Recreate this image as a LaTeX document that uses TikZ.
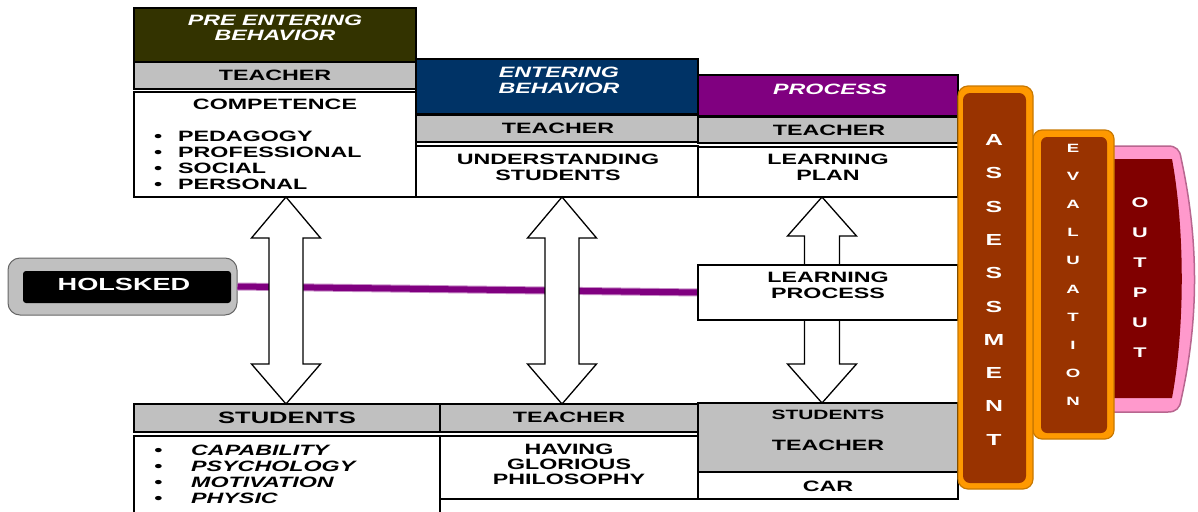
\documentclass[tikz,border=0pt]{standalone}
\usepackage{fontspec}
\setmainfont{Liberation Sans}[FakeStretch=1.55]
\usetikzlibrary{calc}

\definecolor{olivehead}{HTML}{333300}
\definecolor{navyhead}{HTML}{003366}
\definecolor{purplehead}{HTML}{800080}
\definecolor{silver}{HTML}{C0C0C0}
\definecolor{rust}{HTML}{993300}
\definecolor{amber}{HTML}{FF9900}
\definecolor{amberdark}{HTML}{C87800}
\definecolor{maroonfill}{HTML}{800000}
\definecolor{rose}{HTML}{FF99CC}
\definecolor{rosedark}{HTML}{B8668F}

\newcommand\blt{\makebox[24pt][l]{•}}
\newcommand\bltwide{\makebox[37pt][l]{•}}

% double-headed block arrow between two tip points
\newcommand\twowayarrow[2]{%
  \draw[bigarrow] let \p1=(#1), \p2=(#2) in
    (\x1,\y1) -- (\x1+34.5pt,\y1-41pt) -- (\x1+17pt,\y1-41pt)
    -- (\x1+17pt,\y2+40pt) -- (\x1+34.5pt,\y2+40pt) -- (\x2,\y2)
    -- (\x1-34.5pt,\y2+40pt) -- (\x1-17pt,\y2+40pt)
    -- (\x1-17pt,\y1-41pt) -- (\x1-34.5pt,\y1-41pt) -- cycle;}
% single block arrow from a base point to a tip point
\newcommand\blockarrow[3]{% #1 base, #2 tip, #3 direction (+1 up, -1 down)
  \draw[bigarrow] let \p1=(#1), \p2=(#2) in
    (\x1-17.5pt,\y1) -- (\x1-17.5pt,\y2-#3*39pt) -- (\x1-34.5pt,\y2-#3*39pt)
    -- (\x2,\y2) -- (\x1+34.5pt,\y2-#3*39pt) -- (\x1+17.5pt,\y2-#3*39pt)
    -- (\x1+17.5pt,\y1) -- cycle;}

\begin{document}
\begin{tikzpicture}[x=1pt,y=-1pt,
  box/.style={draw=black, line width=1.4pt, inner sep=0pt, outer sep=0pt, anchor=north west},
  txt/.style={inner sep=0pt, font=\bfseries\fontsize{15}{15.5}\selectfont, align=center},
  hdr/.style={txt, font=\bfseries\itshape\fontsize{15}{15.5}\selectfont, text=white},
  itl/.style={txt, font=\bfseries\itshape\fontsize{15}{15.5}\selectfont},
  vlet/.style={inner sep=0pt, text=white, font=\bfseries\fontsize{#1}{#1}\selectfont},
  bigarrow/.style={draw=black, line width=1.3pt, fill=white, line join=miter}]
\useasboundingbox (0,0) rectangle (1198,511);

% ---- upper row: teacher side ----
\node[box, fill=olivehead, minimum width=282pt, minimum height=54pt] (h1) at (134,8) {};
\node[box, fill=silver, minimum width=282pt, minimum height=27pt] (t1) at (134,62) {};
\node[box, fill=white, minimum width=282pt, minimum height=105pt] (w1) at (134,92) {};

\node[box, fill=navyhead, minimum width=282pt, minimum height=55pt] (h2) at (416,59) {};
\node[box, fill=silver, minimum width=282pt, minimum height=27pt] (t2) at (416,115) {};
\node[box, fill=white, minimum width=282pt, minimum height=51pt] (w2) at (416,146) {};

\node[box, fill=purplehead, minimum width=260pt, minimum height=41pt] (h3) at (698,75) {};
\node[box, fill=silver, minimum width=260pt, minimum height=26pt] (t3) at (698,117) {};
\node[box, fill=white, minimum width=260pt, minimum height=50pt] (w3) at (698,147) {};

\node[box, fill=white, minimum width=260pt, minimum height=55pt] (lp) at (698,265) {};

% ---- lower row: students side ----
\node[box, fill=silver, minimum width=306pt, minimum height=28pt] (s1) at (134,404) {};
\node[box, fill=silver, minimum width=258pt, minimum height=28pt] (s2) at (440,404) {};
\node[box, fill=white, minimum width=306pt, minimum height=90pt] (b1) at (134,436) {};
\node[box, fill=white, minimum width=258pt, minimum height=63pt] (b2) at (440,436) {};
\node[box, fill=silver, minimum width=260pt, minimum height=69pt] (s3) at (698,403) {};
\node[box, fill=white, minimum width=260pt, minimum height=27pt] (c3) at (698,472) {};

% ---- HOLSKED badge ----
\node[draw=gray!80!black, line width=1pt, fill=silver, rounded corners=12pt,
      minimum width=229pt, minimum height=57pt, inner sep=0pt] (hol) at (122.5,286.5) {};
\node[fill=black, rounded corners=3pt, minimum width=208pt, minimum height=32pt,
      inner sep=0pt] (holin) at (127,287) {};
\node[txt, text=white, font=\bfseries\fontsize{17.5}{18}\selectfont] (holt) at (124,284) {HOLSKED};

% purple link into the learning process
\draw[line width=8pt, purplehead!45!white] (hol.east) -- (lp.west);
\draw[line width=6pt, purplehead] (hol.east) -- (lp.west);

% ---- block arrows ----
\coordinate (a1t) at (w1.south -| 286,0);
\coordinate (a1b) at (s1.north -| 286,0);
\coordinate (a2t) at (w2.south -| 562,0);
\coordinate (a2b) at (s2.north -| 562,0);
\coordinate (a3t) at (w3.south -| 822,0);
\coordinate (a3m) at (lp.north -| 822,0);
\coordinate (a3n) at (lp.south -| 822,0);
\coordinate (a3b) at (s3.north -| 822,0);
\twowayarrow{a1t}{a1b}
\twowayarrow{a2t}{a2b}
\blockarrow{a3m}{a3t}{1}
\blockarrow{a3n}{a3b}{-1}
\draw[line width=1.4pt] (lp.north west) rectangle (lp.south east);

% ---- texts ----
\node[hdr] (h1x) at (275,28) {PRE ENTERING\\BEHAVIOR};
\node[txt] (t1x) at (275,75.5) {TEACHER};
\node[txt] (w1x) at (275,104) {COMPETENCE};
\node[txt, anchor=west] (l1) at (154,136) {\blt PEDAGOGY};
\node[txt, anchor=west] (l2) at (154,152) {\blt PROFESSIONAL};
\node[txt, anchor=west] (l3) at (154,168) {\blt SOCIAL};
\node[txt, anchor=west] (l4) at (154,184) {\blt PERSONAL};

\node[hdr] (h2x) at (559,80.5) {ENTERING\\BEHAVIOR};
\node[txt] (t2x) at (558,128.5) {TEACHER};
\node[txt] (w2x) at (558,167.5) {UNDERSTANDING\\STUDENTS};

\node[hdr] (h3x) at (830,89) {PROCESS};
\node[txt] (t3x) at (829,130) {TEACHER};
\node[txt] (w3x) at (828,167.5) {LEARNING\\PLAN};

\node[txt] (lpx) at (828,285.5) {LEARNING\\PROCESS};

\node[txt, font=\bfseries\fontsize{16.5}{17}\selectfont] (s1x) at (287,417.5) {STUDENTS};
\node[txt] (s2x) at (569,417.5) {TEACHER};
\node[itl, anchor=west] (m1) at (154,450) {\bltwide CAPABILITY};
\node[itl, anchor=west] (m2) at (154,466) {\bltwide PSYCHOLOGY};
\node[itl, anchor=west] (m3) at (154,482) {\bltwide MOTIVATION};
\node[itl, anchor=west] (m4) at (154,498) {\bltwide PHYSIC};
\node[txt, font=\bfseries\fontsize{15}{15}\selectfont] (b2x) at (569,464) {HAVING\\GLORIOUS\\PHILOSOPHY};

\node[txt, font=\bfseries\fontsize{13.5}{14}\selectfont] (s3a) at (828,415) {STUDENTS};
\node[txt] (s3b) at (828,445) {TEACHER};
\node[txt] (c3x) at (828,486) {CAR};

% ---- output panel with bulging right side ----
\path[fill=rose, draw=rosedark, line width=1.5pt]
  (1105,146) -- (1168,146) .. controls (1176,146) and (1180,150) .. (1181,158)
  .. controls (1199,240) and (1199,320) .. (1181,400)
  .. controls (1180,408) and (1176,412) .. (1168,412) -- (1105,412) -- cycle;
\fill[maroonfill] (1108,159) -- (1172,159) .. controls (1185,230) and (1185,328) .. (1172,398)
  -- (1108,398) -- cycle;
\foreach \ch [count=\i] in {O,U,T,P,U,T}
  \node[vlet=14, name=out\i] at (1140,{203+30*(\i-1)}) {\ch};

% ---- evaluation panel ----
\node[box, draw=amberdark, line width=1.2pt, fill=amber, rounded corners=9pt,
      minimum width=81pt, minimum height=309pt] (evo) at (1033,130) {};
\node[box, draw=none, fill=rust, rounded corners=6pt,
      minimum width=66pt, minimum height=296pt] (evi) at (1041,137) {};
\foreach \ch [count=\i] in {E,V,A,L,U,A,T,I,O,N}
  \node[vlet=12, name=ev\i] at (1073,{148+28.2*(\i-1)}) {\ch};

% ---- assessment panel ----
\node[box, draw=amberdark, line width=1.2pt, fill=amber, rounded corners=10pt,
      minimum width=75pt, minimum height=403pt] (aso) at (958,86) {};
\node[box, draw=none, fill=rust, rounded corners=7pt,
      minimum width=63pt, minimum height=390pt] (asi) at (963,93) {};
\foreach \ch [count=\i] in {A,S,S,E,S,S,M,E,N,T}
  \node[vlet=16, name=as\i] at (994,{140+33.3*(\i-1)}) {\ch};
\end{tikzpicture}
\end{document}
